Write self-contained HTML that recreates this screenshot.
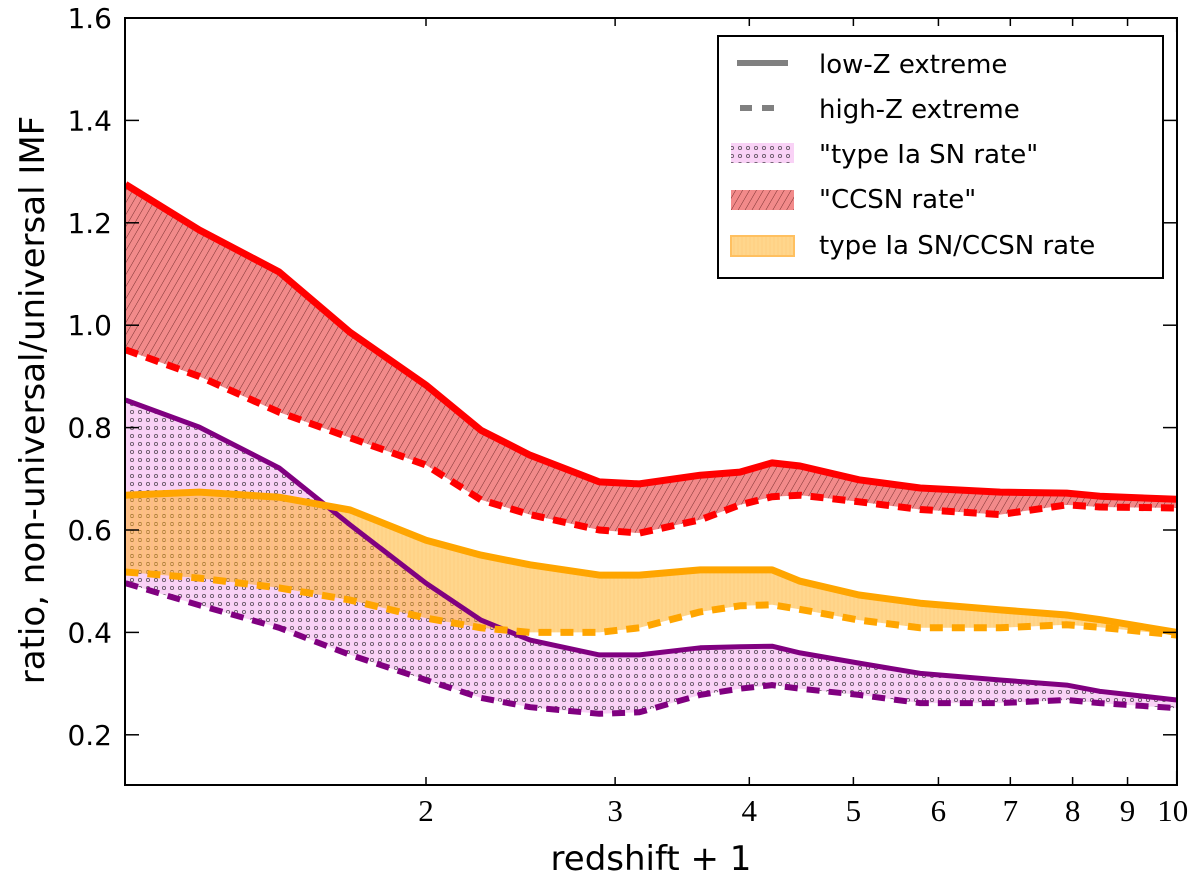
<!DOCTYPE html>
<html><head><meta charset="utf-8"><style>
body{margin:0;background:#fff;}
svg text{font-family:"DejaVu Sans","Liberation Sans",sans-serif;}
</style></head><body>
<svg id="chart" width="1200" height="880" xmlns="http://www.w3.org/2000/svg">
<defs>
<pattern id="dots" width="8" height="8" patternUnits="userSpaceOnUse">
<rect width="8" height="8" fill="#f9d2f6"/><circle cx="4" cy="4" r="1.6" fill="none" stroke="#6a5a6a" stroke-width="0.9"/></pattern>
<pattern id="hatch" width="6" height="6" patternUnits="userSpaceOnUse" patternTransform="rotate(30)">
<rect width="6" height="6" fill="#f28a8a"/><line x1="0" y1="0" x2="0" y2="6" stroke="#7a3030" stroke-width="1"/></pattern>
<pattern id="vlines" width="4" height="4" patternUnits="userSpaceOnUse">
<rect width="4" height="4" fill="rgba(255,165,0,0.45)"/><line x1="2" y1="0" x2="2" y2="4" stroke="rgba(255,200,120,0.6)" stroke-width="1"/></pattern>
<clipPath id="plotclip"><rect x="125" y="18" width="1052" height="767"/></clipPath>
</defs>
<g id="plot" clip-path="url(#plotclip)"></g>
<rect x="125" y="18" width="1052" height="767" fill="none" stroke="#000" stroke-width="2"/>
<g id="axes"></g>
<text x="651" y="870" font-size="34" text-anchor="middle">redshift + 1</text>
<text transform="translate(44,400) rotate(-90)" font-size="34" text-anchor="middle">ratio, non-universal/universal IMF</text>
<g>
<rect x="718" y="36" width="445" height="242" fill="#fff" stroke="#000" stroke-width="2"/>
<line x1="737" y1="63" x2="788" y2="63" stroke="#808080" stroke-width="6"/>
<line x1="740" y1="108" x2="782" y2="108" stroke="#808080" stroke-width="6" stroke-dasharray="12,10"/>
<rect x="731" y="143" width="63" height="20" fill="url(#dots)"/>
<rect x="731" y="190" width="63" height="20" fill="url(#hatch)"/>
<rect x="731" y="236" width="63" height="20" fill="url(#vlines)" stroke="#ffc060" stroke-width="2"/>
<text x="819" y="73" font-size="26">low-Z extreme</text>
<text x="819" y="118" font-size="26">high-Z extreme</text>
<text x="819" y="163" font-size="26">"type Ia SN rate"</text>
<text x="819" y="208" font-size="26">"CCSN rate"</text>
<text x="819" y="254" font-size="26">type Ia SN/CCSN rate</text>
</g>
</svg>
<script>
const xs=[1.05,1.23,1.46,1.7,2,2.25,2.5,2.9,3.16,3.6,3.92,4.2,4.46,5.06,5.77,6.85,7.9,8.48,10];
const redLow=[1.275,1.186,1.104,0.986,0.883,0.795,0.746,0.694,0.69,0.707,0.713,0.731,0.725,0.698,0.682,0.674,0.672,0.666,0.66];
const redHigh=[0.952,0.9,0.83,0.78,0.727,0.659,0.63,0.6,0.594,0.62,0.649,0.665,0.668,0.655,0.64,0.63,0.649,0.645,0.643];
const purLow=[0.854,0.801,0.721,0.61,0.496,0.424,0.385,0.356,0.356,0.37,0.372,0.373,0.36,0.34,0.32,0.307,0.297,0.285,0.268];
const purHigh=[0.496,0.453,0.409,0.356,0.307,0.272,0.254,0.241,0.244,0.278,0.29,0.297,0.29,0.278,0.262,0.262,0.268,0.262,0.252];
const oraLow=[0.668,0.674,0.664,0.639,0.58,0.551,0.532,0.512,0.512,0.522,0.522,0.522,0.5,0.473,0.457,0.444,0.434,0.425,0.4];
const oraHigh=[0.518,0.506,0.487,0.463,0.428,0.409,0.4,0.4,0.409,0.44,0.452,0.454,0.445,0.424,0.409,0.409,0.415,0.41,0.395];
const yTicks=[0.2,0.4,0.6,0.8,1.0,1.2,1.4,1.6];
const xTicks=[2,3,4,5,6,7,8,9,10];

const NS="http://www.w3.org/2000/svg";
const X=v=>426+1074*Math.log10(v/2);
const Y=v=>18+(1.6-v)*512;
function mk(tag,attrs,parent){const e=document.createElementNS(NS,tag);for(const k in attrs)e.setAttribute(k,attrs[k]);parent.appendChild(e);return e;}
const plot=document.getElementById('plot'),axes=document.getElementById('axes');
const pts=a=>a.map((v,i)=>X(xs[i]).toFixed(1)+','+Y(v).toFixed(1));
function band(a,b,fill,name){
  const p=mk('polygon',{points:pts(a).concat(pts(b).reverse()).join(' '),fill:fill},plot);
  
  
}
function line(a,color,w,dash,name){
  const p=mk('polyline',{points:pts(a).join(' '),fill:'none',stroke:color,'stroke-width':w,'stroke-linejoin':'round'},plot);
  if(dash)p.setAttribute('stroke-dasharray',dash);
  
  
}
band(purLow,purHigh,'url(#dots)','ia-rate-band');
band(redLow,redHigh,'url(#hatch)','ccsn-rate-band');
band(oraLow,oraHigh,'url(#vlines)','ratio-band');
line(purLow,'#800080',5,null,'ia-low-z-line');
line(purHigh,'#800080',6,'13,9','ia-high-z-line');
line(redLow,'#ff0000',7,null,'ccsn-low-z-line');
line(redHigh,'#ff0000',7,'13,9','ccsn-high-z-line');
line(oraLow,'#ffa500',7,null,'ratio-low-z-line');
line(oraHigh,'#ffa500',7,'13,9','ratio-high-z-line');
yTicks.forEach(v=>{
  const y=Y(v);
  mk('line',{x1:125,x2:139,y1:y,y2:y,stroke:'#000','stroke-width':1.5},axes);
  mk('line',{x1:1163,x2:1177,y1:y,y2:y,stroke:'#000','stroke-width':1.5},axes);
  const t=mk('text',{x:112,y:y+10,'font-size':28,'text-anchor':'end'},axes);
  t.textContent=v.toFixed(1);
  
  
});
xTicks.forEach(v=>{
  const x=X(v),len=v===10?14:8;
  mk('line',{x1:x,x2:x,y1:785,y2:785-len,stroke:'#000','stroke-width':1.5},axes);
  mk('line',{x1:x,x2:x,y1:18,y2:18+len,stroke:'#000','stroke-width':1.5},axes);
  const t=mk('text',{x:v===10?x-4:x,y:821,'font-size':31,'text-anchor':'middle',style:'font-family:"Liberation Serif",serif'},axes);
  t.textContent=String(v);
  
  
});
</script>
</body></html>
